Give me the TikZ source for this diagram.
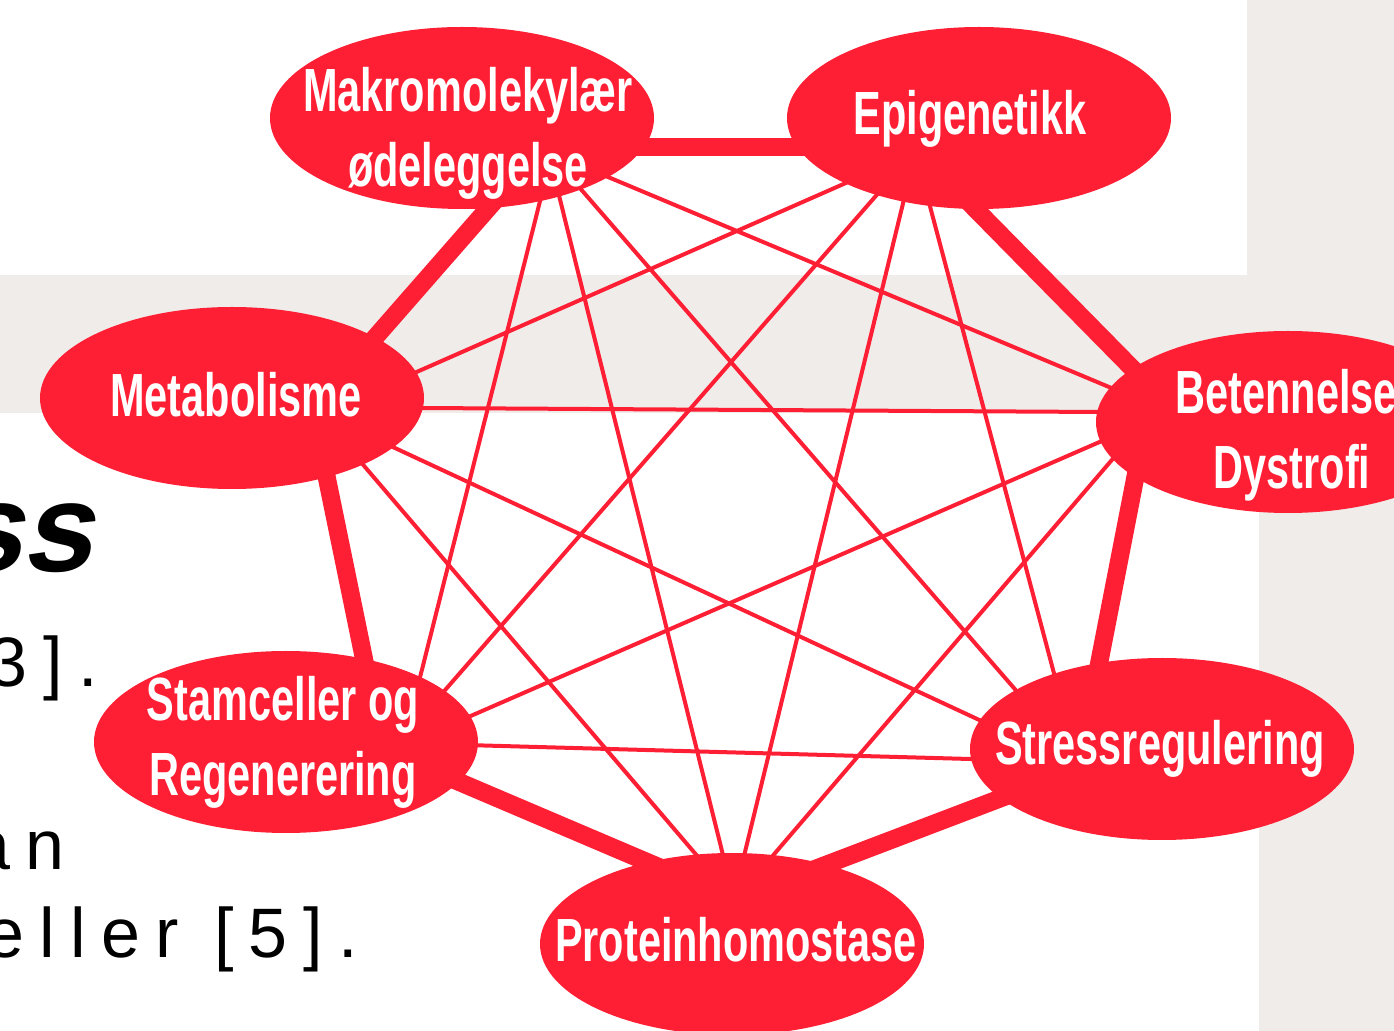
\documentclass[tikz,border=0pt]{standalone}
\usepackage{fontspec}
\setmainfont{Liberation Sans}
\newfontfamily\dinfont[FakeStretch=0.68]{Liberation Sans}
\newfontfamily\bodyfont[LetterSpace=22]{Liberation Sans}
\newfontfamily\headfont[FakeSlant=0.22]{Liberation Sans Bold}
\usetikzlibrary{shapes.geometric}

\definecolor{hallred}{RGB}{254,31,52}
\definecolor{paper}{RGB}{240,236,233}

\pgfdeclarelayer{background}
\pgfsetlayers{background,main}

\begin{document}
\begin{tikzpicture}[x=0.5pt, y=-0.5pt,
        node_style/.style={ellipse, fill=hallred, minimum width=192pt, minimum height=91pt, inner sep=0pt},
        label_style/.style={text=white, align=center, inner sep=0pt, font={\dinfont\bfseries\fontsize{30.5}{37.5}\selectfont}},
        edge_style/.style={draw=hallred, line width=2pt, shorten <=-3pt, shorten >=-3pt},
        rim_style/.style={draw=hallred, line width=9pt, shorten <=-8pt, shorten >=-8pt},
        back_text/.style={anchor=base east, inner sep=0pt, font={\bodyfont\fontsize{35}{42}\selectfont}}]

        \useasboundingbox (0,0) rectangle (1394,1031);
        \clip (0,0) rectangle (1394,1031);

        \node [back_text, font={\headfont\fontsize{63}{70}\selectfont}] (t1) at (92,572) {ss};
        \node [back_text] (t2) at (98,687) {3].};
        \node [back_text] (t3) at (65,870) {an};
        \node [back_text] (t4) at (358,958) {eller [5].};

        \node [node_style] (makro) at (462,118) {};
        \node [node_style] (epi) at (979,118) {};
        \node [node_style] (meta) at (232,398) {};
        \node [node_style] (beten) at (1288,422) {};
        \node [node_style] (stam) at (286,742) {};
        \node [node_style] (stress) at (1162,749) {};
        \node [node_style] (protein) at (732,944) {};

        \node [label_style] (makro_txt) at (468,133) {Makromolekylær\\ødeleggelse};
        \node [label_style] (epi_txt) at (970,119) {Epigenetikk};
        \node [label_style] (meta_txt) at (236,395) {Metabolisme};
        \node [label_style] (beten_txt) at (1292,435) {Betennelse/\\Dystrofi};
        \node [label_style] (stam_txt) at (283,742) {Stamceller og\\Regenerering};
        \node [label_style] (stress_txt) at (1160,749) {Stressregulering};
        \node [label_style] (protein_txt) at (736,940) {Proteinhomostase};

        \begin{pgfonlayer}{background}
        \fill [paper] (0,275) rectangle (1394,413);
        \fill [paper] (1247,0) rectangle (1394,275);
        \fill [paper] (1259,413) rectangle (1394,1031);

        \draw [rim_style] (makro.-9) -- (epi.-171);
        \draw [rim_style] (epi.-92.5) -- (beten.161.9);
        \draw [rim_style] (beten.-160.2) -- (stress.126.8);
        \draw [rim_style] (stress.-163.8) -- (protein.40.5);
        \draw [rim_style] (protein.136.7) -- (stam.-13.5);
        \draw [rim_style] (stam.47) -- (meta.-40.7);
        \draw [rim_style] (meta.23.8) -- (makro.-74.8);

        \draw [edge_style] (makro.-22.5) -- (beten.169.2);
        \draw [edge_style] (makro.-31) -- (stress.158.5);
        \draw [edge_style] (makro.-39.4) -- (protein.96.3);
        \draw [edge_style] (makro.-47.5) -- (stam.26.2);
        \draw [edge_style] (epi.-154) -- (meta.8);
        \draw [edge_style] (epi.-143) -- (stam.18.4);
        \draw [edge_style] (epi.-132.8) -- (protein.82.5);
        \draw [edge_style] (epi.-119.4) -- (stress.145.8);
        \draw [edge_style] (meta.-3.3) -- (beten.177);
        \draw [edge_style] (meta.-17.3) -- (stress.171);
        \draw [edge_style] (meta.-27.8) -- (protein.112.1);
        \draw [edge_style] (beten.-174.6) -- (stam.8.4);
        \draw [edge_style] (beten.-168.1) -- (protein.65.7);
        \draw [edge_style] (stam.-1.5) -- (stress.-177.3);
        \end{pgfonlayer}
\end{tikzpicture}
\end{document}
